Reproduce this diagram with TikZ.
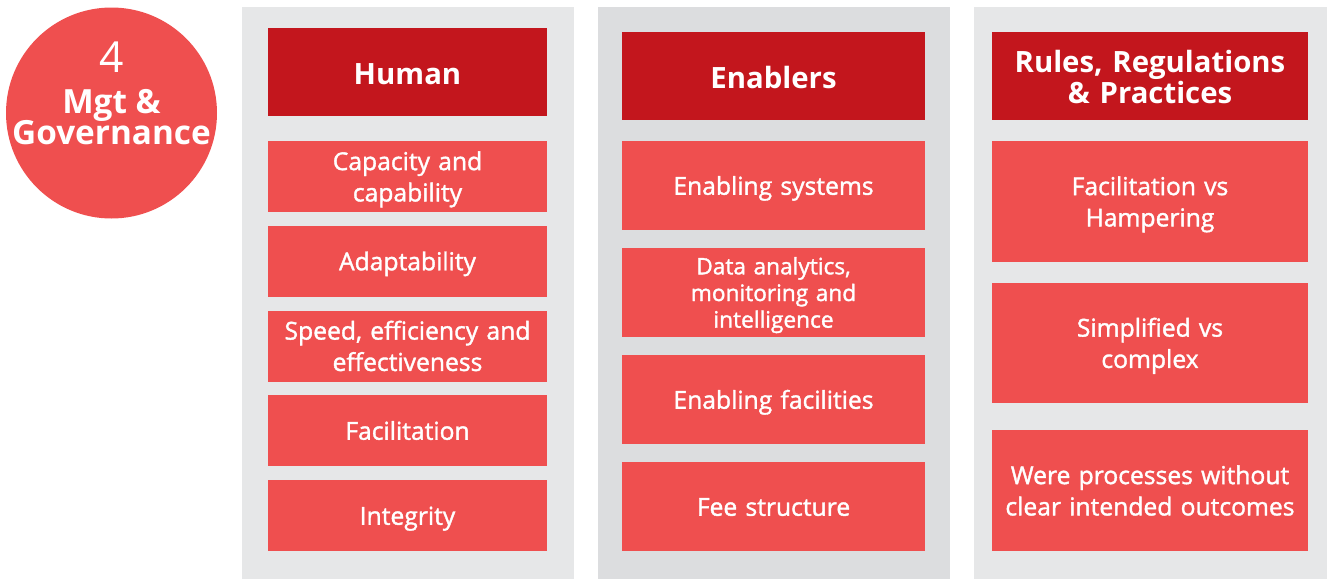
\documentclass[tikz,border=0pt]{standalone}
\usepackage{fontspec}
\setmainfont{Open Sans}
\newfontfamily\cellfont{Open Sans}[FakeBold=1.5]
\usetikzlibrary{positioning}

\definecolor{panelgrey}{HTML}{E6E7E8}
\definecolor{panelmid}{HTML}{DCDDDF}
\definecolor{headred}{HTML}{C3161D}
\definecolor{cellred}{HTML}{EF4F4F}

\begin{document}
\begin{tikzpicture}[x=0.75pt, y=-0.75pt]
        \tikzstyle{every node}=[inner sep=0pt, text=white, align=center]
        \tikzstyle{head}=[fill=headred, minimum height=66pt, font=\fontsize{22}{23}\selectfont\bfseries, execute at begin node={\rule{0pt}{0.85em}}]
        \tikzstyle{cell}=[fill=cellred, font=\cellfont\fontsize{18.5}{23.5}\selectfont, execute at begin node={\rule{0pt}{1em}}, execute at end node={\rule[-0.25em]{0pt}{0pt}}]
        \tikzstyle{human}=[minimum width=209.25pt, text width=207pt]
        \tikzstyle{enabler}=[minimum width=227.25pt, text width=225pt]
        \tikzstyle{rule}=[minimum width=237pt, text width=235pt]
        \useasboundingbox (0,0) rectangle (1327,579);
        % background panels
        \fill[panelgrey] (242,7) rectangle (574,579);
        \fill[panelmid] (598,7) rectangle (950,579);
        \fill[panelgrey] (974,7) rectangle (1327,579);
        % circle
        \node [circle, fill=cellred, minimum size=158.25pt] (mgtcircle) at (111.5,113) {};
        \node [anchor=base, font=\fontsize{32}{32}\selectfont] (num) at (111.5,72.6) {4};
        \node [anchor=base, font=\fontsize{25}{25}\selectfont\bfseries] (mgt) at (111.5,113) {Mgt \&};
        \node [anchor=base, font=\fontsize{25}{25}\selectfont\bfseries] (gov) at (111.5,144) {Governance};
        % human column
        \node [head, human] (human) at (407.5,72) {Human};
        \node [cell, human, minimum height=53.25pt] (capacity) at (407.5,176.5) {Capacity and\\capability};
        \node [cell, human, minimum height=53.25pt] (adapt) at (407.5,261) {Adaptability};
        \node [cell, human, minimum height=53.25pt] (speed) at (407.5,346) {Speed, efficiency and\\effectiveness};
        \node [cell, human, minimum height=53.25pt] (facil) at (407.5,430.5) {Facilitation};
        \node [cell, human, minimum height=53.25pt] (integ) at (407.5,515.5) {Integrity};
        % enablers column
        \node [head, enabler] (enablers) at (773.5,76) {Enablers};
        \node [cell, enabler, minimum height=66.75pt] (systems) at (773.5,185.5) {Enabling systems};
        \node [cell, enabler, minimum height=66.75pt, font=\cellfont\fontsize{17}{20}\selectfont] (data) at (773.5,292.5) {Data analytics,\\monitoring and\\intelligence};
        \node [cell, enabler, minimum height=66.75pt] (facilities) at (773.5,399.5) {Enabling facilities};
        \node [cell, enabler, minimum height=66.75pt] (fee) at (773.5,506.5) {Fee structure};
        % rules column
        \node [head, rule] (rules) at (1150,76) {Rules, Regulations\\\& Practices};
        \node [cell, rule, minimum height=90.75pt] (hamper) at (1150,201.5) {Facilitation vs\\Hampering};
        \node [cell, rule, minimum height=90pt] (simple) at (1150,343) {Simplified vs\\complex};
        \node [cell, rule, minimum height=90.75pt] (outcomes) at (1150,490.5) {Were processes without\\clear intended outcomes};
\end{tikzpicture}
\end{document}
